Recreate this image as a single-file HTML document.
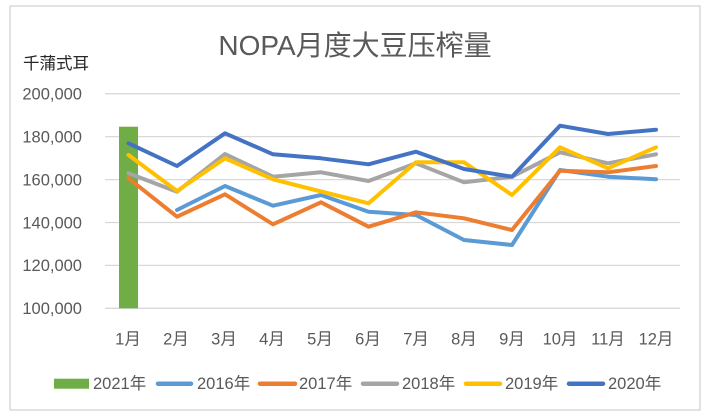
<!DOCTYPE html>
<html><head><meta charset="utf-8"><style>
html,body{margin:0;padding:0;background:#fff;}
svg{display:block;}
text{font-family:"Liberation Sans","Noto Sans CJK SC",sans-serif;fill:#595959;}
</style></head><body>
<svg width="706" height="417" viewBox="0 0 706 417" xmlns="http://www.w3.org/2000/svg">
<rect x="0" y="0" width="706" height="417" fill="#fff"/>
<rect x="10" y="6" width="690" height="404" fill="#fff" stroke="#D9D9D9" stroke-width="1.5"/>
<text x="355" y="55" font-size="28" text-anchor="middle">NOPA月度大豆压榨量</text>
<text x="23" y="69" font-size="16.5" style="fill:#262626">千蒲式耳</text>
<g stroke="#D9D9D9" stroke-width="1.3">
<line x1="105" y1="93.7" x2="680" y2="93.7"/>
<line x1="105" y1="136.6" x2="680" y2="136.6"/>
<line x1="105" y1="179.6" x2="680" y2="179.6"/>
<line x1="105" y1="222.5" x2="680" y2="222.5"/>
<line x1="105" y1="265.4" x2="680" y2="265.4"/>
<line x1="105" y1="308.3" x2="680" y2="308.3"/>
</g>
<g font-size="16.5" text-anchor="end">
<text x="82" y="99.5">200,000</text>
<text x="82" y="142.4">180,000</text>
<text x="82" y="185.4">160,000</text>
<text x="82" y="228.3">140,000</text>
<text x="82" y="271.2">120,000</text>
<text x="82" y="314.1">100,000</text>
</g>
<g font-size="16.5" text-anchor="middle">
<text x="128" y="344.5">1月</text>
<text x="176" y="344.5">2月</text>
<text x="224" y="344.5">3月</text>
<text x="272" y="344.5">4月</text>
<text x="320" y="344.5">5月</text>
<text x="368" y="344.5">6月</text>
<text x="416" y="344.5">7月</text>
<text x="464" y="344.5">8月</text>
<text x="512" y="344.5">9月</text>
<text x="560" y="344.5">10月</text>
<text x="608" y="344.5">11月</text>
<text x="656" y="344.5">12月</text>
</g>
<rect x="119" y="126.7" width="19" height="181.6" fill="#70AD47"/>
<g fill="none" stroke-width="4" stroke-linejoin="round" stroke-linecap="round">
<polyline stroke="#5B9BD5" points="177,210 225,186 273,205.7 321,195 368.5,211.7 416,215 464,240 512,245 560,170 608,176.7 656,179.3"/>
<polyline stroke="#ED7D31" points="128.5,178.3 177,216.7 225,194.3 273,224.3 321,202.3 368.5,226.7 416,212.3 464,218.3 512,230 560,170.7 608,172.3 656,166"/>
<polyline stroke="#A5A5A5" points="128.5,173.3 177,191.7 225,154 273,176.7 321,172.3 368.5,181 416,163.3 464,182.3 512,176.7 560,152.3 608,163.3 656,154.3"/>
<polyline stroke="#FFC000" points="128.5,155 177,191 225,158.3 273,179.3 321,191.5 368.5,203.3 416,162.3 464,162.3 512,195 560,147.3 608,168.3 656,147.3"/>
<polyline stroke="#4472C4" points="128.5,143.3 177,166 225,133.3 273,154.3 321,158.3 368.5,164.3 416,151.7 464,169 512,176.7 560,125.7 608,134 656,129.7"/>
</g>
<rect x="54" y="378.7" width="35" height="10" fill="#70AD47"/>
<g stroke-width="4.5" stroke-linecap="round">
<line x1="158" y1="383.7" x2="191" y2="383.7" stroke="#5B9BD5"/>
<line x1="260" y1="383.7" x2="295" y2="383.7" stroke="#ED7D31"/>
<line x1="363" y1="383.7" x2="397" y2="383.7" stroke="#A5A5A5"/>
<line x1="466" y1="383.7" x2="500" y2="383.7" stroke="#FFC000"/>
<line x1="569" y1="383.7" x2="603" y2="383.7" stroke="#4472C4"/>
</g>
<g font-size="16.5">
<text x="93" y="389">2021年</text>
<text x="197" y="389">2016年</text>
<text x="299" y="389">2017年</text>
<text x="402" y="389">2018年</text>
<text x="505" y="389">2019年</text>
<text x="608" y="389">2020年</text>
</g>
</svg>
</body></html>
